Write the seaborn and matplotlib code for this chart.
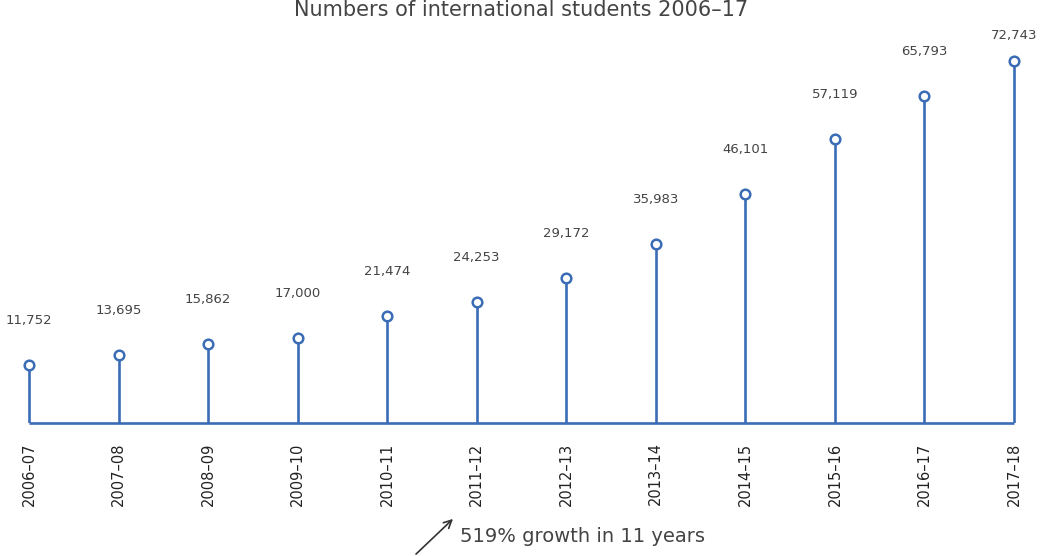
import matplotlib
matplotlib.use("Agg")
import matplotlib.pyplot as plt
import seaborn as sns
import pandas as pd

years = ["2006–07", "2007–08", "2008–09", "2009–10", "2010–11", "2011–12",
         "2012–13", "2013–14", "2014–15", "2015–16", "2016–17", "2017–18"]
students = [11752, 13695, 15862, 17000, 21474, 24253,
            29172, 35983, 46101, 57119, 65793, 72743]

title = "Numbers of international students 2006–17"
note = "519% growth in 11 years"

BLUE = "#3A6DB5"
GREY = "#444444"

sns.set_theme(style="white")
plt.rcParams["font.family"] = ["DejaVu Sans"]

df = pd.DataFrame({"year": years, "students": students})

W, H = 1043, 556
fig = plt.figure(figsize=(W / 100, H / 100), dpi=100)

# axes placed so that the stems run from x=29 to x=1014 px and the baseline sits at y=423 px
unit = (1014 - 29) / 11
left_px = 29 - 0.3 * unit
right_px = 1014 + 0.3 * unit
ax = fig.add_axes([left_px / W, (H - 423) / H, (right_px - left_px) / W, 423 / H])
ax.set_xlim(-0.3, 11.3)
ax.set_ylim(0, 85000)

xs = list(range(len(years)))
ax.vlines(xs, 0, df["students"], color=BLUE, lw=1.9, zorder=2)
ax.hlines(0, xs[0], xs[-1], color=BLUE, lw=1.9, zorder=2, clip_on=False)
sns.scatterplot(data=df, x="year", y="students", ax=ax, s=48, marker="o",
                facecolor="white", edgecolor=BLUE, linewidth=1.8, zorder=3,
                clip_on=False, legend=False)

for i, v in enumerate(students):
    off = 18 if i == len(students) - 1 else 32
    ax.annotate(f"{v:,}", (i, v), xytext=(0, off), textcoords="offset points",
                ha="center", va="center", fontsize=9.5, color=GREY,
                annotation_clip=False)

ax.set_xticks(xs)
ax.set_xticklabels(years, rotation=90, fontsize=10.5, color="#222222")
ax.tick_params(axis="x", length=0, pad=14)
ax.set_yticks([])
ax.set_xlabel("")
ax.set_ylabel("")
for s in ax.spines.values():
    s.set_visible(False)

fig.text(0.5, 1 - 16 / H, title, ha="center", va="baseline",
         fontsize=15, color=GREY)

fig.text(460 / W, 1 - 537 / H, note, ha="left", va="center",
         fontsize=14, color=GREY)
fig.add_artist(matplotlib.patches.FancyArrowPatch(
    (414 / W, 0.0), (455 / W, 1 - 517 / H), transform=fig.transFigure,
    arrowstyle="->", mutation_scale=14, color="#333333", lw=1.2))

fig.savefig("out.png", dpi=100)
